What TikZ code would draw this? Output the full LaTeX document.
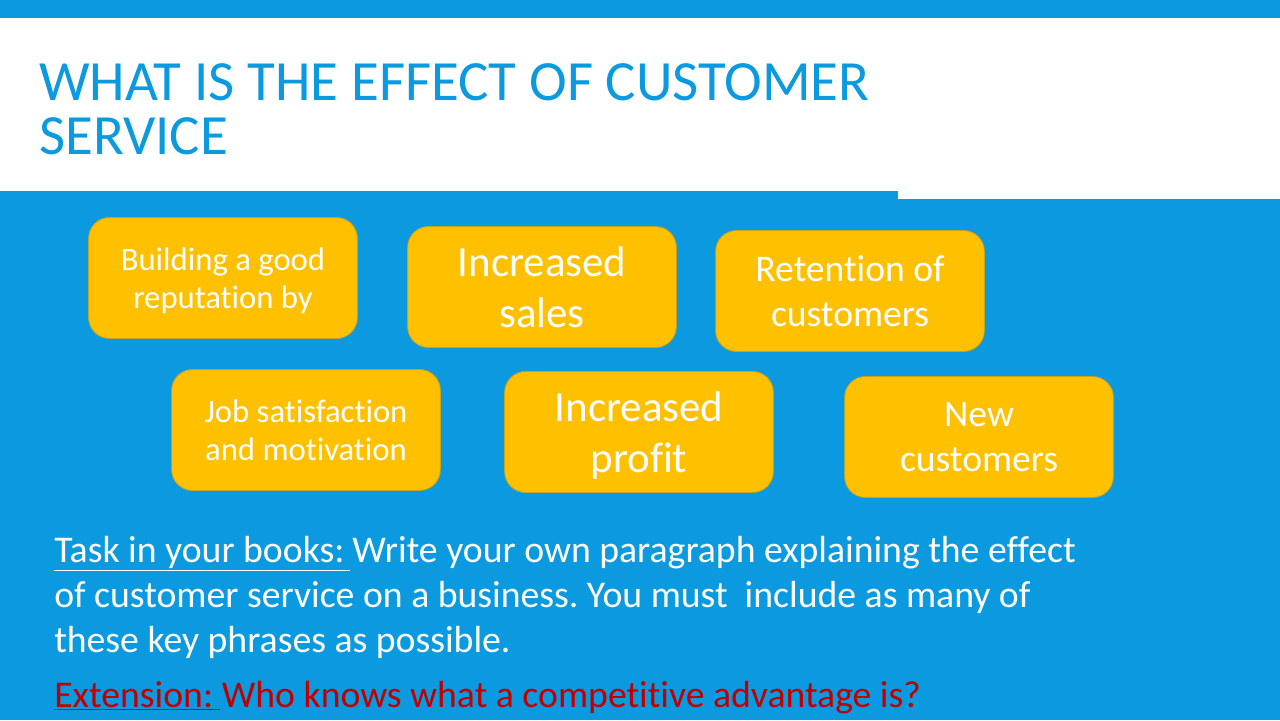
\documentclass[tikz,border=0pt]{standalone}
\usepackage{fontspec}
\setmainfont[Ligatures=NoCommon]{Carlito}
\usetikzlibrary{positioning}
\definecolor{skyblue}{HTML}{0B9ADF}
\definecolor{boxgold}{HTML}{FFC000}
\definecolor{boxedge}{HTML}{C9A21C}
\definecolor{extred}{HTML}{C00000}
\tikzset{
  keybox/.style={draw=boxedge,fill=boxgold,rounded corners=0.55cm,minimum width=7.11cm,minimum height=3.2cm,align=center,text=white,inner sep=0pt,text depth=0pt,line width=0.6pt},
  small/.style={font=\fontsize{24.6}{28.6}\selectfont},
  mid/.style={font=\fontsize{28.3}{34}\selectfont},
  large/.style={font=\fontsize{32.3}{38.5}\selectfont},
  titletext/.style={anchor=base west,inner sep=0pt,text=skyblue,font=\fontsize{42.8}{44}\selectfont},
  tasktext/.style={anchor=base west,text=white,inner sep=0pt,font=\fontsize{28.4}{30}\selectfont\frenchspacing},
}
\begin{document}
\begin{tikzpicture}[x=0.02646cm,y=-0.02646cm]
\useasboundingbox (0,0) rectangle (1280,720);
\fill[skyblue] (0,0) rectangle (1280,720);
\fill[white] (0,18) rectangle (1280,191);
\fill[white] (898,191) rectangle (1280,199);
\node[titletext] (title1) at (39,100) {WHAT IS THE EFFECT OF CUSTOMER};
\node[titletext] (title2) at (39,154) {SERVICE};
\node[keybox,small] (reputation) at (223,278) {Building a good\\reputation by};
\node[keybox,large] (sales) at (542,287) {Increased\\sales};
\node[keybox,mid] (retention) at (850,291) {Retention of\\customers};
\node[keybox,small] (job) at (306,430) {Job satisfaction\\and motivation};
\node[keybox,large] (profit) at (639,432) {Increased\\profit};
\node[keybox,mid] (new) at (979,437) {New\\customers};
\node[tasktext] (task1) at (54,562) {\underline{Task in your books:\hspace{4.5pt}}\hspace{1.5pt}Write your own paragraph explaining the effect};
\node[tasktext] (task2) at (54,607) {of customer service on a business. You must \ include as many of};
\node[tasktext] (task3) at (54,652) {these key phrases as possible.};
\node[tasktext,text=extred] (ext) at (54,707) {\underline{Extension:\hspace{5pt}}\hspace{1.5pt}Who knows what a competitive advantage is?};
\end{tikzpicture}
\end{document}
